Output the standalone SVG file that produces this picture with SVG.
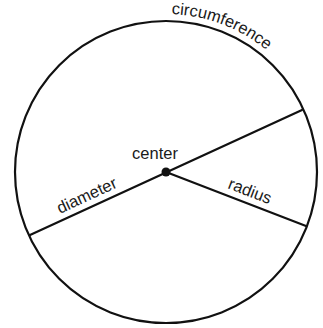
<svg xmlns="http://www.w3.org/2000/svg" xmlns:xlink="http://www.w3.org/1999/xlink" width="323" height="328" viewBox="0 0 323 328">
<style>
.ln{stroke:#111;stroke-width:2.2;fill:none;stroke-linecap:round}
.lbl{font-family:"Liberation Sans",Arial,sans-serif;font-size:16.5px;fill:#1a1a1a}
</style>
<defs>
<path id="circPath" d="M 87 35.2 A 158 158 0 0 1 324 172"/>
</defs>
<rect width="323" height="328" fill="#fff"/>
<g id="connectors">
<line class="ln" x1="30" y1="235" x2="302" y2="110"/>
<line class="ln" x1="166" y1="172" x2="306" y2="226"/>
</g>
<g id="circle">
<circle class="ln" cx="166" cy="172" r="151"/>
<text class="lbl"><textPath xlink:href="#circPath" href="#circPath" startOffset="140" text-anchor="middle">circumference</textPath></text>
</g>
<g id="center">
<circle cx="166" cy="172" r="4.5" fill="#111"/>
<text class="lbl" x="155" y="159" text-anchor="middle">center</text>
</g>
<g id="diameter">
<text class="lbl" text-anchor="middle" transform="translate(89,200.5) rotate(-24.86)">diameter</text>
</g>
<g id="radius">
<text class="lbl" text-anchor="middle" transform="translate(248,196.2) rotate(21.1)">radius</text>
</g>
</svg>
